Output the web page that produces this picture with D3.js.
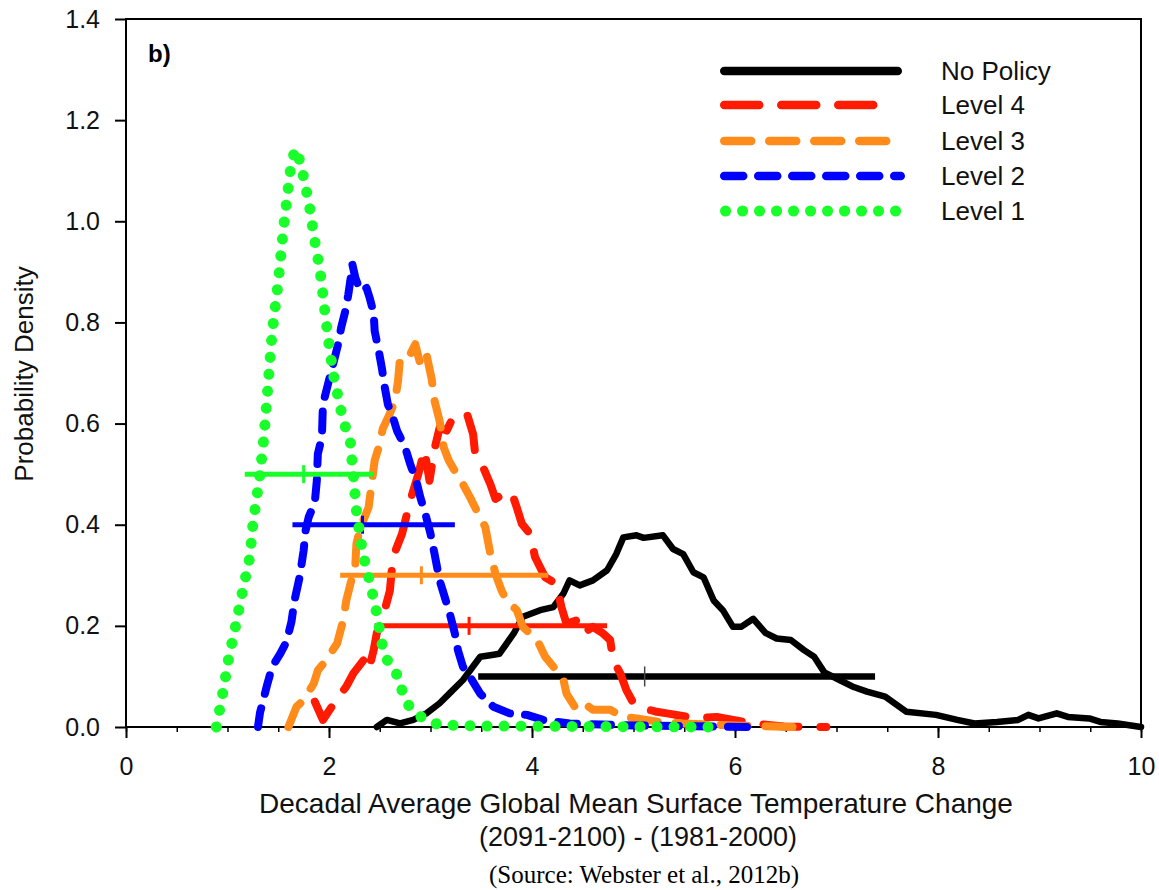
<!DOCTYPE html>
<html lang="en">
<head>
<meta charset="UTF-8">
<title>Temperature change density</title>
<script src="https://cdn.jsdelivr.net/npm/d3@7"></script>
<style>
    body { margin: 0; background: #fff; }
    svg { display: block; font-family: "Liberation Sans", Arial, sans-serif; }
</style>
</head>
<body>
<div id="graphDiv"></div>
<script>
// density curves, [temperature change, density]
var noPolicy = [[2.47,0],[2.57,0.014],[2.70,0.007],[2.83,0.014],[2.96,0.027],[3.09,0.047],[3.19,0.067],[3.32,0.093],[3.49,0.139],[3.59,0.142],[3.68,0.145],[3.82,0.185],[3.91,0.218],[4.08,0.231],[4.21,0.237],[4.31,0.264],[4.37,0.29],[4.47,0.28],[4.60,0.29],[4.74,0.31],[4.83,0.342],[4.90,0.375],[5.03,0.379],[5.10,0.374],[5.29,0.379],[5.39,0.352],[5.49,0.342],[5.59,0.306],[5.69,0.296],[5.79,0.25],[5.88,0.231],[5.98,0.198],[6.06,0.198],[6.18,0.214],[6.30,0.186],[6.41,0.175],[6.55,0.172],[6.68,0.152],[6.78,0.139],[6.88,0.108],[7.03,0.093],[7.17,0.079],[7.30,0.07],[7.48,0.06],[7.69,0.03],[7.98,0.024],[8.19,0.014],[8.36,0.007],[8.58,0.01],[8.79,0.014],[8.89,0.024],[8.99,0.017],[9.17,0.027],[9.28,0.02],[9.49,0.017],[9.60,0.01],[9.77,0.007],[10.0,0]]
var level4 = [[1.86,0.05],[1.94,0.014],[2.06,0.05],[2.17,0.08],[2.24,0.106],[2.34,0.132],[2.39,0.112],[2.44,0.152],[2.47,0.185],[2.54,0.224],[2.60,0.27],[2.63,0.336],[2.72,0.382],[2.76,0.415],[2.81,0.454],[2.88,0.50],[2.94,0.548],[2.99,0.487],[3.04,0.55],[3.09,0.592],[3.16,0.586],[3.22,0.612],[3.36,0.619],[3.42,0.579],[3.44,0.54],[3.52,0.513],[3.59,0.48],[3.64,0.451],[3.72,0.461],[3.80,0.464],[3.85,0.434],[3.90,0.402],[3.98,0.382],[4.03,0.336],[4.08,0.316],[4.13,0.296],[4.24,0.283],[4.29,0.237],[4.34,0.204],[4.44,0.211],[4.50,0.185],[4.60,0.198],[4.70,0.185],[4.77,0.172],[4.80,0.132],[4.87,0.106],[4.93,0.073],[5.00,0.047],[5.10,0.037],[5.23,0.03],[5.33,0.027],[5.62,0.017],[5.82,0.02],[5.98,0.014],[6.18,0.007],[6.48,0.001],[6.90,0]]
var level3 = [[1.60,0],[1.68,0.04],[1.75,0.053],[1.85,0.086],[1.89,0.112],[1.96,0.129],[2.08,0.165],[2.14,0.211],[2.17,0.25],[2.22,0.29],[2.26,0.323],[2.27,0.362],[2.31,0.395],[2.39,0.434],[2.42,0.481],[2.45,0.527],[2.49,0.553],[2.53,0.59],[2.60,0.62],[2.65,0.645],[2.68,0.684],[2.70,0.73],[2.75,0.737],[2.80,0.737],[2.85,0.757],[2.90,0.717],[2.96,0.737],[3.01,0.69],[3.04,0.645],[3.09,0.605],[3.13,0.553],[3.18,0.527],[3.22,0.513],[3.32,0.48],[3.39,0.454],[3.45,0.43],[3.54,0.395],[3.59,0.342],[3.64,0.303],[3.70,0.27],[3.75,0.25],[3.85,0.231],[3.91,0.198],[4.05,0.172],[4.13,0.139],[4.24,0.112],[4.31,0.093],[4.34,0.066],[4.44,0.034],[4.54,0.043],[4.60,0.034],[4.77,0.034],[4.90,0.02],[5.03,0.017],[5.26,0.01],[5.49,0.007],[6.0,0.003],[6.61,0]]
var level2 = [[1.30,0],[1.32,0.028],[1.39,0.083],[1.44,0.119],[1.52,0.145],[1.58,0.168],[1.63,0.208],[1.66,0.25],[1.71,0.296],[1.75,0.349],[1.77,0.389],[1.80,0.415],[1.86,0.444],[1.88,0.487],[1.89,0.54],[1.93,0.573],[1.94,0.638],[1.99,0.678],[2.04,0.717],[2.09,0.757],[2.12,0.79],[2.16,0.822],[2.19,0.855],[2.21,0.882],[2.23,0.915],[2.26,0.888],[2.31,0.862],[2.37,0.868],[2.40,0.849],[2.44,0.819],[2.45,0.783],[2.49,0.744],[2.52,0.711],[2.55,0.671],[2.58,0.638],[2.63,0.612],[2.67,0.586],[2.75,0.553],[2.80,0.52],[2.86,0.487],[2.90,0.454],[2.95,0.421],[3.00,0.382],[3.04,0.342],[3.09,0.29],[3.14,0.257],[3.19,0.224],[3.24,0.185],[3.27,0.152],[3.32,0.119],[3.39,0.099],[3.49,0.066],[3.62,0.04],[3.78,0.027],[3.95,0.024],[4.11,0.014],[4.37,0.007],[5.0,0.003],[6.21,0]]
var level1 = [[0.89,0],[0.95,0.063],[1.01,0.134],[1.08,0.20],[1.15,0.27],[1.22,0.336],[1.25,0.40],[1.32,0.50],[1.36,0.576],[1.40,0.678],[1.44,0.78],[1.50,0.88],[1.55,0.984],[1.61,1.085],[1.63,1.12],[1.675,1.143],[1.73,1.108],[1.76,1.075],[1.80,1.04],[1.85,0.972],[1.91,0.905],[1.95,0.838],[1.99,0.77],[2.04,0.70],[2.11,0.633],[2.15,0.60],[2.21,0.565],[2.24,0.497],[2.27,0.428],[2.32,0.36],[2.36,0.32],[2.40,0.29],[2.47,0.225],[2.53,0.156],[2.60,0.119],[2.69,0.099],[2.73,0.063],[2.81,0.034],[2.95,0.014],[3.09,0.004],[3.5,0.002],[4.5,0.001],[5.85,0]]

// ranges shown as horizontal bars: level, low, median, high
var seriesNames = ["No Policy", "Level 4", "Level 3", "Level 2", "Level 1"]
var barLevel = [0.1, 0.2, 0.3, 0.4, 0.5]
var barLow = [3.47, 2.45, 2.11, 1.64, 1.17]
var barMedian = [5.11, 3.38, 2.91, 2.33, 1.75]
var barHigh = [7.38, 4.74, 4.16, 3.24, 2.44]

var xTicks = [0, 2, 4, 6, 8, 10]
var yTicks = [0, 0.2, 0.4, 0.6, 0.8, 1.0, 1.2, 1.4]

var curves = [noPolicy, level4, level3, level2, level1]
var colours = ["#000000", "#ff1a00", "#ff8c1a", "#0000ff", "#19ff2a"]
var widths = [6.5, 8, 8, 8, 11]
var dashes = [null, "35 22", "27 18", "19 15", "0.1 16.9"]
var legendEnd = [902, 882, 893, 905, 908]

var width = 1159
var height = 890
var plotLeft = 126, plotRight = 1141, plotTop = 19, plotBottom = 727

var svg = d3.select('#graphDiv').append('svg')
    .attr('width', width).attr('height', height)

var x = d3.scaleLinear().domain([0, 10]).range([plotLeft, plotRight])
var y = d3.scaleLinear().domain([0, 1.4]).range([plotBottom, plotTop])

// minor x ticks every 0.5
svg.append('g')
    .attr('transform', `translate(0,${plotBottom})`)
    .call(d3.axisBottom(x).tickValues(d3.range(0, 10.01, 0.5)).tickSize(5).tickFormat(''))
    .call(g => g.select('.domain').remove())
    .call(g => g.selectAll('line').attr('stroke-width', 1.5))

svg.append('g')
    .attr('transform', `translate(0,${plotBottom})`)
    .call(d3.axisBottom(x).tickValues(xTicks).tickSize(11).tickPadding(19).tickFormat(d3.format('d')))
    .call(g => g.select('.domain').remove())
    .call(g => g.selectAll('line').attr('stroke-width', 2))
    .call(g => g.selectAll('text').attr('font-size', 25).attr('fill', '#111').attr('font-family', '"Liberation Sans", Arial, sans-serif'))

svg.append('g')
    .attr('transform', `translate(${plotLeft},0)`)
    .call(d3.axisLeft(y).tickValues(yTicks).tickSize(11).tickPadding(15).tickFormat(d3.format('.1f')))
    .call(g => g.select('.domain').remove())
    .call(g => g.selectAll('line').attr('stroke-width', 2))
    .call(g => g.selectAll('text').attr('font-size', 25).attr('fill', '#111').attr('font-family', '"Liberation Sans", Arial, sans-serif'))

// frame
svg.append('rect')
    .attr('x', plotLeft).attr('y', plotTop)
    .attr('width', plotRight - plotLeft).attr('height', plotBottom - plotTop)
    .attr('fill', 'none').attr('stroke', '#000').attr('stroke-width', 2)

var line = d3.line().x(d => x(d[0])).y(d => y(d[1]))

curves.forEach((c, i) => {
    svg.append('path')
        .datum(c)
        .attr('d', line)
        .attr('fill', 'none')
        .attr('stroke', colours[i])
        .attr('stroke-width', widths[i])
        .attr('stroke-linecap', 'round')
        .attr('stroke-linejoin', 'round')
        .attr('stroke-dasharray', dashes[i])

    // range bar with median tick
    svg.append('line')
        .attr('x1', x(barLow[i])).attr('x2', x(barHigh[i]))
        .attr('y1', y(barLevel[i])).attr('y2', y(barLevel[i]))
        .attr('stroke', colours[i])
        .attr('stroke-width', i == 0 ? 6.5 : 5)
    svg.append('line')
        .attr('x1', x(barMedian[i])).attr('x2', x(barMedian[i]))
        .attr('y1', y(barLevel[i]) - (i == 0 ? 10 : 9)).attr('y2', y(barLevel[i]) + (i == 0 ? 10 : 9))
        .attr('stroke', i == 0 ? '#444' : colours[i])
        .attr('stroke-width', i == 0 ? 1.5 : 3)
})

// legend
var legend = svg.append('g')
var legendY = [71, 105, 141, 176, 211]
seriesNames.forEach((name, i) => {
    var w = i == 4 ? 11 : 8.5
    legend.append('line')
        .attr('x1', 720 + w / 2).attr('x2', legendEnd[i] - w / 2)
        .attr('y1', legendY[i]).attr('y2', legendY[i])
        .attr('stroke', colours[i])
        .attr('stroke-width', w)
        .attr('stroke-linecap', 'round')
        .attr('stroke-dasharray', dashes[i])
    legend.append('text')
        .attr('x', 941).attr('y', legendY[i])
        .attr('dy', '0.36em')
        .attr('font-size', 26)
        .attr('fill', '#111')
        .text(name)
})

svg.append('text')
    .attr('x', 148).attr('y', 62)
    .attr('font-size', 24).attr('font-weight', 'bold')
    .text('b)')

// axis titles
svg.append('text')
    .attr('x', 636).attr('y', 813)
    .attr('text-anchor', 'middle').attr('font-size', 28).attr('fill', '#111')
    .text('Decadal Average Global Mean Surface Temperature Change')
svg.append('text')
    .attr('x', 638).attr('y', 846)
    .attr('text-anchor', 'middle').attr('font-size', 27).attr('fill', '#111')
    .text('(2091-2100) - (1981-2000)')
svg.append('text')
    .attr('transform', 'translate(33,374) rotate(-90)')
    .attr('text-anchor', 'middle').attr('font-size', 26).attr('fill', '#111')
    .text('Probability Density')
svg.append('text')
    .attr('x', 644).attr('y', 883)
    .attr('text-anchor', 'middle').attr('font-size', 25)
    .attr('font-family', '"Liberation Serif", "Times New Roman", serif')
    .text('(Source: Webster et al., 2012b)')
</script>
</body>
</html>
